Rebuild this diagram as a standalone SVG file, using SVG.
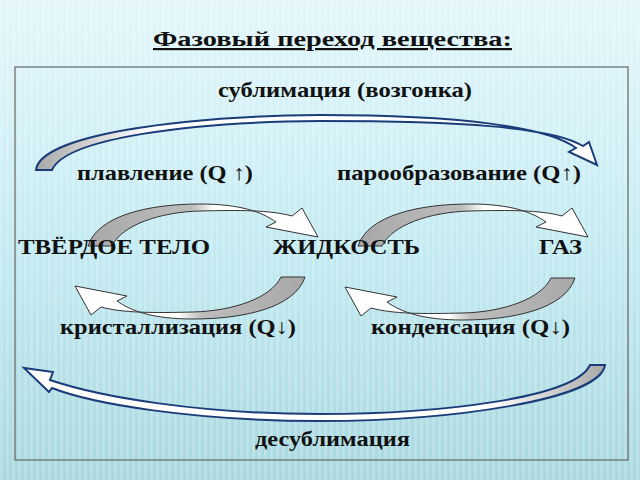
<svg xmlns="http://www.w3.org/2000/svg" width="640" height="480" viewBox="0 0 640 480">
<defs>
<linearGradient id="bg" x1="0" y1="0" x2="0" y2="1"><stop offset="0" stop-color="#e4f7fb"/><stop offset="0.5" stop-color="#c4ebf2"/><stop offset="1" stop-color="#a9d8e0"/></linearGradient>
<pattern id="st" width="6" height="6" patternUnits="userSpaceOnUse"><rect width="3" height="6" fill="#ffffff" opacity="0.18"/></pattern>
<linearGradient id="rib" x1="0" y1="0" x2="1" y2="0"><stop offset="0" stop-color="#a8a8a8"/><stop offset="0.45" stop-color="#bdbdbd"/><stop offset="0.55" stop-color="#ffffff"/><stop offset="1" stop-color="#ffffff"/></linearGradient>
<linearGradient id="big" x1="0" y1="0" x2="1" y2="0"><stop offset="0" stop-color="#a8a8a8"/><stop offset="0.2" stop-color="#ffffff"/><stop offset="1" stop-color="#ffffff"/></linearGradient>
<linearGradient id="big2" x1="1" y1="0" x2="0" y2="0"><stop offset="0" stop-color="#a8a8a8"/><stop offset="0.2" stop-color="#ffffff"/><stop offset="1" stop-color="#ffffff"/></linearGradient>
<path id="cres" d="M88,246 C98,215 150,204 200,204 C240,204 262,212 276,222 L266,227 L318,237 L302,208 L292,216 C270,210 240,210 200,211 C160,212 122,225 112,246 Z" fill="url(#rib)" stroke="#333" stroke-width="1"/>
</defs>
<rect width="640" height="480" fill="url(#bg)"/>
<rect width="640" height="480" fill="url(#st)"/>
<rect x="15" y="67" width="613" height="393" fill="none" stroke="#666" stroke-width="1.2"/>
<g id="connectors">
<path d="M36,170 C40,135 180,116 320,115 C460,115 548,127 576,148 L569,152 L597,165 L589,142 L583,146 C552,127 460,121 320,121 C190,122 66,138 52,170 Z" fill="url(#big)" stroke="#1a3d7a" stroke-width="2"/>
<path d="M590,365 L605,365 C600,400 450,421 320,421 C190,421 90,403 52,388 L49,392 L24,368 L53,372 L50,380 C100,397 200,414 320,414 C440,414 575,398 590,365 Z" fill="url(#big2)" stroke="#1a3d7a" stroke-width="2"/>
<use href="#cres"/>
<use href="#cres" transform="rotate(180 196.5 261.5)"/>
<use href="#cres" transform="translate(270,0)"/>
<use href="#cres" transform="translate(270,0) rotate(180 196.5 262)"/>
</g>
<g font-family="'Liberation Serif','DejaVu Serif',serif" font-weight="bold" font-size="21" fill="#111" lengthAdjust="spacingAndGlyphs">
<text x="153" y="46" text-decoration="underline" font-size="22" textLength="359" lengthAdjust="spacingAndGlyphs">Фазовый переход вещества:</text>
<g id="n1"><text x="218" y="97" textLength="254" lengthAdjust="spacingAndGlyphs">сублимация (возгонка)</text></g>
<g id="n2"><text x="77" y="180" textLength="176" lengthAdjust="spacingAndGlyphs">плавление (Q ↑)</text></g>
<g id="n3"><text x="337" y="180" textLength="244" lengthAdjust="spacingAndGlyphs">парообразование (Q↑)</text></g>
<g id="n4"><text x="18" y="254" textLength="192" lengthAdjust="spacingAndGlyphs">ТВЁРДОЕ ТЕЛО</text></g>
<g id="n5"><text x="273" y="254" textLength="147" lengthAdjust="spacingAndGlyphs">ЖИДКОСТЬ</text></g>
<g id="n6"><text x="539" y="254" textLength="43" lengthAdjust="spacingAndGlyphs">ГАЗ</text></g>
<g id="n7"><text x="60" y="334" textLength="236" lengthAdjust="spacingAndGlyphs">кристаллизация (Q↓)</text></g>
<g id="n8"><text x="371" y="334" textLength="199" lengthAdjust="spacingAndGlyphs">конденсация (Q↓)</text></g>
<g id="n9"><text x="255" y="446" textLength="155" lengthAdjust="spacingAndGlyphs">десублимация</text></g>
</g>
</svg>
